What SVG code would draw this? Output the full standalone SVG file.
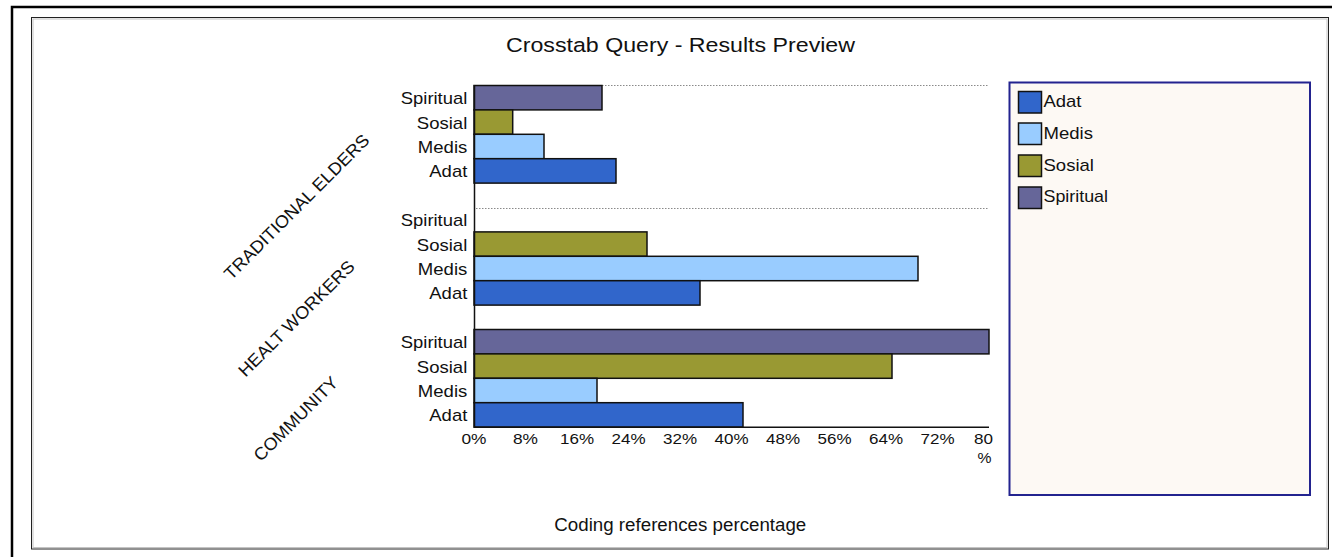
<svg xmlns="http://www.w3.org/2000/svg" width="1336" height="557" viewBox="0 0 1336 557">
  <style>
    text { font-family: "Liberation Sans", Arial, sans-serif; fill: #111; }
    .cat { font-size: 17px; text-anchor: end; }
    .tick { font-size: 15.5px; text-anchor: middle; }
    .grp { font-size: 17.5px; text-anchor: middle; }
    .leg { font-size: 17px; }
    .bar { stroke: #111; stroke-width: 1.5; }
    .adat { fill: #3166cb; }
    .medis { fill: #99ccff; }
    .sosial { fill: #999933; }
    .spiritual { fill: #666699; }
    .grid { stroke: #8a8a8a; stroke-width: 1; stroke-dasharray: 1.5 1.5; }
    .axis { stroke: #111; stroke-width: 1.5; fill: none; }
  </style>

  <rect x="0" y="0" width="1336" height="557" fill="#ffffff"/>

  <!-- window frames -->
  <g id="frames" fill="none">
    <path d="M12 557 V7 H1332" stroke="#000" stroke-width="2.5"/>
    <rect x="31.5" y="17.5" width="1297" height="531.5" stroke="#222" stroke-width="1"/>
    <rect x="33" y="19" width="1294" height="528.5" stroke="#c4c4c4" stroke-width="1"/>
  </g>

  <!-- title -->
  <text id="title" x="680.5" y="52.3" font-size="20.5" text-anchor="middle" textLength="349" lengthAdjust="spacingAndGlyphs">Crosstab Query - Results Preview</text>

  <!-- gridlines between groups -->
  <g id="gridlines">
    <line class="grid" x1="476" y1="85.5" x2="988" y2="85.5"/>
    <line class="grid" x1="476" y1="208.5" x2="988" y2="208.5"/>
  </g>

  <!-- group: traditional elders -->
  <g id="group-traditional-elders">
    <rect class="bar spiritual" x="474" y="85.5" width="128" height="24.4"/>
    <rect class="bar sosial" x="474" y="109.9" width="38.7" height="24.4"/>
    <rect class="bar medis" x="474" y="134.3" width="70" height="24.4"/>
    <rect class="bar adat" x="474" y="158.7" width="142" height="24.4"/>
    <text class="cat" x="467.3" y="104.2" textLength="66.5" lengthAdjust="spacingAndGlyphs">Spiritual</text>
    <text class="cat" x="467.3" y="128.6" textLength="50.5" lengthAdjust="spacingAndGlyphs">Sosial</text>
    <text class="cat" x="467.3" y="153" textLength="49.5" lengthAdjust="spacingAndGlyphs">Medis</text>
    <text class="cat" x="467.3" y="177.4" textLength="38" lengthAdjust="spacingAndGlyphs">Adat</text>
    <text class="grp" x="301" y="211" transform="rotate(-45 301 211)" textLength="197" lengthAdjust="spacingAndGlyphs">TRADITIONAL ELDERS</text>
  </g>

  <!-- group: health workers -->
  <g id="group-healt-workers">
    <rect class="bar sosial" x="474" y="231.9" width="173" height="24.4"/>
    <rect class="bar medis" x="474" y="256.3" width="444" height="24.4"/>
    <rect class="bar adat" x="474" y="280.7" width="226" height="24.4"/>
    <text class="cat" x="467.3" y="226.2" textLength="66.5" lengthAdjust="spacingAndGlyphs">Spiritual</text>
    <text class="cat" x="467.3" y="250.6" textLength="50.5" lengthAdjust="spacingAndGlyphs">Sosial</text>
    <text class="cat" x="467.3" y="275" textLength="49.5" lengthAdjust="spacingAndGlyphs">Medis</text>
    <text class="cat" x="467.3" y="299.4" textLength="38" lengthAdjust="spacingAndGlyphs">Adat</text>
    <text class="grp" x="300.7" y="322.7" transform="rotate(-45 300.7 322.7)" textLength="156" lengthAdjust="spacingAndGlyphs">HEALT WORKERS</text>
  </g>

  <!-- group: community -->
  <g id="group-community">
    <rect class="bar spiritual" x="474" y="329.5" width="515" height="24.4"/>
    <rect class="bar sosial" x="474" y="353.9" width="418" height="24.4"/>
    <rect class="bar medis" x="474" y="378.3" width="123" height="24.4"/>
    <rect class="bar adat" x="474" y="402.7" width="269" height="24.4"/>
    <text class="cat" x="467.3" y="348.2" textLength="66.5" lengthAdjust="spacingAndGlyphs">Spiritual</text>
    <text class="cat" x="467.3" y="372.6" textLength="50.5" lengthAdjust="spacingAndGlyphs">Sosial</text>
    <text class="cat" x="467.3" y="397" textLength="49.5" lengthAdjust="spacingAndGlyphs">Medis</text>
    <text class="cat" x="467.3" y="421.4" textLength="38" lengthAdjust="spacingAndGlyphs">Adat</text>
    <text class="grp" x="300" y="423" transform="rotate(-45 300 423)" textLength="111" lengthAdjust="spacingAndGlyphs">COMMUNITY</text>
  </g>

  <!-- axes -->
  <g id="axes">
    <path class="axis" d="M474.5 85 V427.2 H989"/>
  </g>

  <!-- value axis labels -->
  <g id="value-axis-labels">
    <text class="tick" x="474" y="444" textLength="25" lengthAdjust="spacingAndGlyphs">0%</text>
    <text class="tick" x="525.5" y="444" textLength="25" lengthAdjust="spacingAndGlyphs">8%</text>
    <text class="tick" x="577" y="444" textLength="34" lengthAdjust="spacingAndGlyphs">16%</text>
    <text class="tick" x="628.5" y="444" textLength="34" lengthAdjust="spacingAndGlyphs">24%</text>
    <text class="tick" x="680" y="444" textLength="34" lengthAdjust="spacingAndGlyphs">32%</text>
    <text class="tick" x="731.5" y="444" textLength="34" lengthAdjust="spacingAndGlyphs">40%</text>
    <text class="tick" x="783" y="444" textLength="34" lengthAdjust="spacingAndGlyphs">48%</text>
    <text class="tick" x="834.5" y="444" textLength="34" lengthAdjust="spacingAndGlyphs">56%</text>
    <text class="tick" x="886" y="444" textLength="34" lengthAdjust="spacingAndGlyphs">64%</text>
    <text class="tick" x="937.5" y="444" textLength="34" lengthAdjust="spacingAndGlyphs">72%</text>
    <text class="tick" x="983.5" y="444" textLength="19" lengthAdjust="spacingAndGlyphs">80</text>
    <text class="tick" x="984.5" y="462.7" textLength="14" lengthAdjust="spacingAndGlyphs">%</text>
  </g>

  <!-- axis caption -->
  <text id="axis-caption" x="680.3" y="530.5" font-size="17.5" text-anchor="middle" textLength="252" lengthAdjust="spacingAndGlyphs">Coding references percentage</text>

  <!-- legend -->
  <g id="legend">
    <rect x="1009.5" y="82.5" width="300.5" height="412.5" fill="#fdf9f4" stroke="#23238f" stroke-width="2"/>
    <rect class="bar adat" x="1018.5" y="91.5" width="23" height="21.5"/>
    <rect class="bar medis" x="1018.5" y="123" width="23" height="21.5"/>
    <rect class="bar sosial" x="1018.5" y="155" width="23" height="21.5"/>
    <rect class="bar spiritual" x="1018.5" y="187" width="23" height="21.5"/>
    <text class="leg" x="1043.5" y="106.7" textLength="38" lengthAdjust="spacingAndGlyphs">Adat</text>
    <text class="leg" x="1043.5" y="138.5" textLength="49.5" lengthAdjust="spacingAndGlyphs">Medis</text>
    <text class="leg" x="1043.5" y="170.5" textLength="50.5" lengthAdjust="spacingAndGlyphs">Sosial</text>
    <text class="leg" x="1043.5" y="202.3" textLength="64.5" lengthAdjust="spacingAndGlyphs">Spiritual</text>
  </g>
</svg>
